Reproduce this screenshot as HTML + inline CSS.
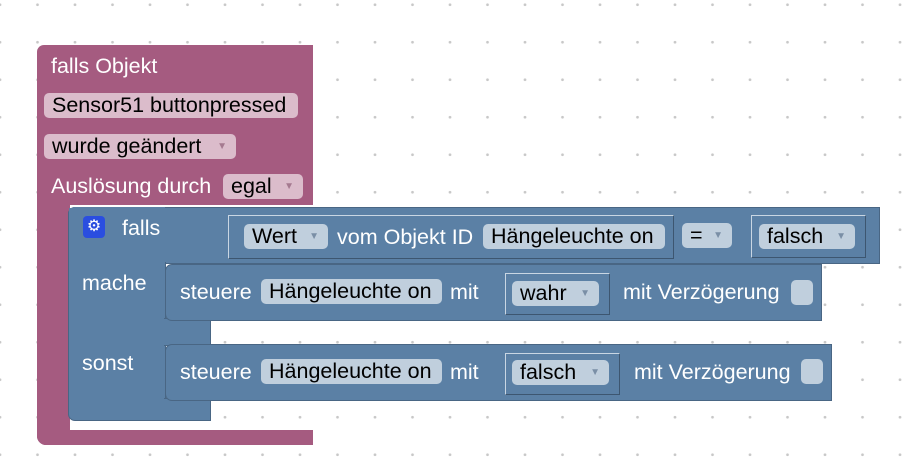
<!DOCTYPE html>
<html><head><meta charset="utf-8"><style>
body{margin:0;width:906px;height:463px;overflow:hidden;background:#fff;
background-image:radial-gradient(circle,#c8c8c8 1.2px,transparent 1.6px);background-size:37.5px 37.5px;background-position:-18.75px -14px;
font-family:"Liberation Sans",Arial,sans-serif;font-size:21.5px;position:relative}
div{position:absolute;box-sizing:border-box}
.p{background:#a55b80}
.b{background:#5b80a5;border:1px solid #496684}
.t{color:#fff;white-space:nowrap;line-height:26px}
.pf{background:#dbbccb;border-radius:5px;color:#000;padding-left:8px;line-height:25px;height:25px;white-space:nowrap}
.bf{background:#c0cfdd;border-radius:5px;color:#000;padding-left:8px;line-height:25px;height:25px;white-space:nowrap}
.ar{font-size:10px;color:#7a8fa6;position:absolute;right:9px;top:0}
.pa{font-size:10px;color:#a57a90;position:absolute;right:9px;top:0}
.o{border:1px solid #c9d6e3;border-right-color:#3d5670;border-bottom-color:#3d5670;background:#5b80a5}
</style></head><body>
<!-- purple block -->
<div class="p" style="left:37px;top:45px;width:276px;height:160px;border-radius:7px 0 0 0"></div>
<div class="p" style="left:37px;top:200px;width:33px;height:245px;border-radius:0 0 0 9px"></div>
<div class="p" style="left:37px;top:430px;width:276px;height:15px;border-radius:0 0 0 9px"></div>
<div class="t" style="left:51px;top:53px">falls Objekt</div>
<div class="pf" style="left:44px;top:93px;width:254px">Sensor51 buttonpressed</div>
<div class="pf" style="left:44px;top:134px;width:192px">wurde geändert<span class="pa">▼</span></div>
<div class="t" style="left:51px;top:173px">Auslösung durch</div>
<div class="pf" style="left:223px;top:174px;width:80px">egal<span class="pa">▼</span></div>
<!-- blue if block -->
<div class="b" style="left:68px;top:207px;width:812px;height:57px;border-radius:7px 0 0 0"></div>
<div class="b" style="left:68px;top:207px;width:98px;height:214px;border-top:none;border-radius:7px 0 0 7px"></div>
<div style="left:69px;top:207px;width:96px;height:212px;background:#5b80a5;border-radius:7px 0 0 7px"></div>
<div class="b" style="left:164px;top:318px;width:47px;height:28px;border-left:none"></div>
<div class="b" style="left:164px;top:398px;width:47px;height:23px;border-left:none"></div>
<div style="left:69px;top:208px;width:140px;height:54px;background:#5b80a5"></div>
<div style="left:83px;top:216px;width:22px;height:22px;background:#2a4ee0;border-radius:4px;color:#fff;font-size:16px;text-align:center;line-height:22px">⚙</div>
<div class="t" style="left:122px;top:215px">falls</div>
<div class="t" style="left:82px;top:270px">mache</div>
<div class="t" style="left:82px;top:350px">sonst</div>
<!-- compare -->
<div class="o" style="left:212px;top:211px;width:665px;height:52px;border-color:#5b80a5"></div>
<div class="o" style="left:228px;top:215px;width:446px;height:44px"></div>
<div class="bf" style="left:244px;top:224px;width:84px">Wert<span class="ar">▼</span></div>
<div class="t" style="left:337px;top:224px">vom Objekt ID</div>
<div class="bf" style="left:483px;top:224px;width:182px">Hängeleuchte on</div>
<div class="bf" style="left:682px;top:223px;width:50px">=<span class="ar">▼</span></div>
<div class="o" style="left:751px;top:215px;width:115px;height:43px"></div>
<div class="bf" style="left:759px;top:224px;width:96px">falsch<span class="ar">▼</span></div>
<!-- mache statement -->
<div class="b" style="left:165px;top:264px;width:657px;height:57px;border-radius:7px 0 0 7px"></div>
<div class="t" style="left:180px;top:279px">steuere</div>
<div class="bf" style="left:261px;top:279px;width:181px">Hängeleuchte on</div>
<div class="t" style="left:450px;top:279px">mit</div>
<div class="o" style="left:505px;top:273px;width:105px;height:42px"></div>
<div class="bf" style="left:512px;top:281px;width:87px">wahr<span class="ar">▼</span></div>
<div class="t" style="left:623px;top:279px">mit Verzögerung</div>
<div class="bf" style="left:791px;top:280px;width:22px;padding:0"></div>
<!-- sonst statement -->
<div class="b" style="left:165px;top:344px;width:667px;height:57px;border-radius:7px 0 0 7px"></div>
<div class="t" style="left:180px;top:359px">steuere</div>
<div class="bf" style="left:261px;top:359px;width:181px">Hängeleuchte on</div>
<div class="t" style="left:450px;top:359px">mit</div>
<div class="o" style="left:505px;top:353px;width:115px;height:42px"></div>
<div class="bf" style="left:512px;top:360px;width:97px">falsch<span class="ar">▼</span></div>
<div class="t" style="left:634px;top:359px">mit Verzögerung</div>
<div class="bf" style="left:801px;top:359px;width:22px;padding:0"></div>
</body></html>
